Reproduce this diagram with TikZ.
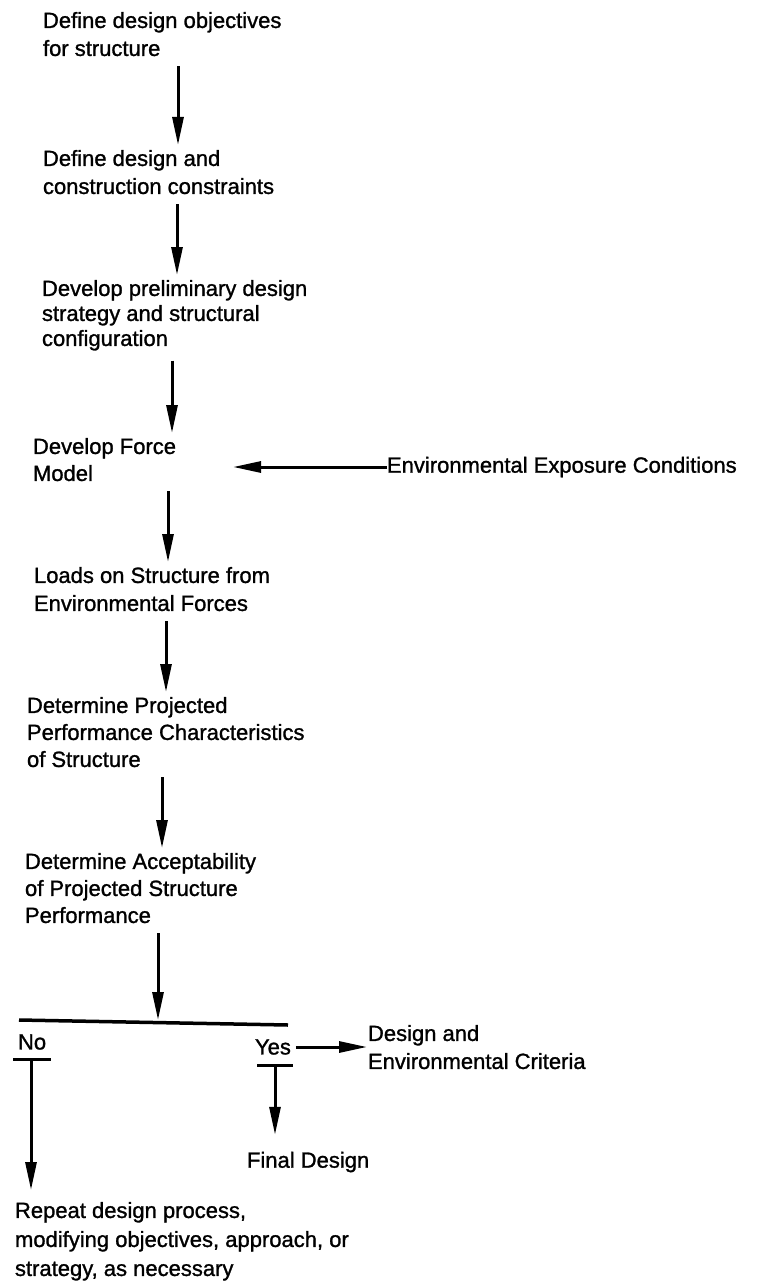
\documentclass[tikz,border=0pt]{standalone}
\usepackage{fontspec}
\setmainfont{Liberation Sans}[BoldFont=Liberation Sans, BoldFeatures={FakeBold=1.2}]
\usetikzlibrary{arrows.meta,calc}
\begin{document}
\begin{tikzpicture}[x=1pt,y=-1pt,
  txt/.style={inner sep=0pt, outer sep=0pt, align=left, font=\fontsize{22}{28}\selectfont\bfseries},
  arr/.style={line width=3pt, -{Triangle[length=28pt,width=11pt]}, shorten <=10pt, shorten >=5pt},
  barline/.style={line width=3.5pt}]
\useasboundingbox (0,0) rectangle (756,1284);

% text blocks
\node[txt, anchor=north west] (n1) at (43,12) {Define design objectives\\for structure};
\node[txt, anchor=north west] (n2) at (43,150) {Define design and\\construction constraints};
\node[txt, anchor=north west, font=\fontsize{22}{25}\selectfont\bfseries] (n3) at (42,280) {Develop preliminary design\\strategy and structural\\configuration};
\node[txt, anchor=north west, font=\fontsize{22}{27}\selectfont\bfseries] (n4) at (33,438) {Develop Force\\Model};
\node[txt, anchor=north west] (n5) at (34,567) {Loads on Structure from\\Environmental Forces};
\node[txt, anchor=north west, font=\fontsize{22}{27}\selectfont\bfseries] (n6) at (27,697) {Determine Projected\\Performance Characteristics\\of Structure};
\node[txt, anchor=north west, font=\fontsize{22}{27}\selectfont\bfseries] (n7) at (25,853) {Determine Acceptability\\of Projected Structure\\Performance};
\node[txt, anchor=west] (env) at (387,467) {Environmental Exposure Conditions};
\node[txt, anchor=west] (no) at (18,1042) {No};
\node[txt, anchor=west] (yes) at (255,1047) {Yes};
\node[txt, anchor=north west] (dc) at (368,1025) {Design and\\Environmental Criteria};
\node[txt, anchor=west] (fin) at (247,1162) {Final Design};
\node[txt, anchor=north west, font=\fontsize{22}{29}\selectfont\bfseries] (rep) at (15,1202) {Repeat design process,\\modifying objectives, approach, or\\strategy, as necessary};

% arrow columns
\coordinate (k1) at (178,0);
\coordinate (k2) at (177,0);
\coordinate (k3) at (172,0);
\coordinate (k4) at (168,0);
\coordinate (k5) at (166,0);
\coordinate (k6) at (162,0);
\coordinate (k7) at (158,0);

\draw[arr] (k1 |- n1.south) -- (k1 |- n2.north);
\draw[arr] (k2 |- n2.south) -- (k2 |- n3.north);
\draw[arr] (k3 |- n3.south) -- (k3 |- n4.north);
\draw[arr] (k4 |- n4.south) -- (k4 |- n5.north);
\draw[arr] (k5 |- n5.south) -- (k5 |- n6.north);
\draw[arr] (k6 |- n6.south) -- (k6 |- n7.north);

% environmental input
\draw[arr, shorten <=0pt, shorten >=57pt] (env.west) -- (n4.east |- env.west);

% decision bar
\coordinate (barL) at (19,1020);
\coordinate (barR) at (288,1025);
\draw[barline] (barL) -- (barR);
\draw[arr, shorten >=0pt] (k7 |- n7.south) -- (k7 |- barL);

% No branch
\coordinate (noL) at (13,1059);
\coordinate (noR) at (51,1059);
\coordinate (noM) at (31,1059);
\draw[barline, line width=3pt] (noL) -- (noR);
\draw[arr, shorten <=0pt, shorten >=12pt] (noM) -- (noM |- rep.north);

% Yes branch
\coordinate (ysL) at (257,1065);
\coordinate (ysR) at (293,1065);
\coordinate (ysM) at (275,1065);
\draw[barline, line width=3pt] (ysL) -- (ysR);
\draw[arr, shorten <=0pt, shorten >=17pt] (ysM) -- (ysM |- fin.north);
\draw[arr, shorten <=5pt, shorten >=1pt] (yes.east) -- (dc.west |- yes.east);
\end{tikzpicture}
\end{document}
